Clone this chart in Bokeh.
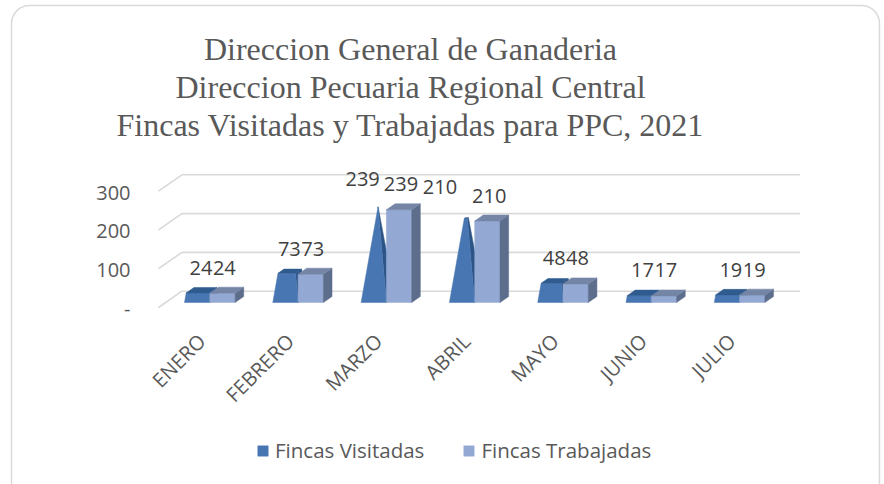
import numpy as np
from bokeh.plotting import figure
from bokeh.models import Range1d, Legend, LegendItem
from bokeh.core.properties import value
from bokeh.embed import file_html
from bokeh.resources import INLINE

# ---------------- data ----------------
CATEGORIES = ["ENERO", "FEBRERO", "MARZO", "ABRIL", "MAYO", "JUNIO", "JULIO"]
VISITADAS = [24, 73, 239, 210, 48, 17, 19]
TRABAJADAS = [24, 73, 239, 210, 48, 17, 19]
SERIES_NAMES = ["Fincas Visitadas", "Fincas Trabajadas"]
Y_TICKS = [0, 100, 200, 300]
Y_TICK_LABELS = ["-", "100", "200", "300"]
TITLE_LINES = ["Direccion General de Ganaderia",
               "Direccion Pecuaria Regional Central",
               "Fincas Visitadas y Trabajadas para PPC, 2021"]

# ---------------- layout / style ----------------
W, H = 884, 484
M = 0
SX = 88.3          # px per category
SY = 0.388         # px per value unit
X0_PX = 209.3      # page x of first category centre
BASE_PX = 302.0    # page y of bar base (front)
BAR_W = 25.3 / SX
BAR_D = 6.0        # bar depth (px, vertical component)
DEPTH_RATIO = 1.4375
WALL_BACK_D = 11.3
WALL_FRONT_D = -5.0
VIS_LABEL_NUDGE = {2: (-15, -5.5), 3: (-26, -9)}   # manually moved labels (px)

VIS_FRONT, VIS_SIDE, VIS_TOP = "#4876b3", "#2d5486", "#2f5b8f"
TRA_FRONT, TRA_SIDE, TRA_TOP = "#93a9d4", "#5d6d8c", "#7585a6"
GRID = "#d9d9d9"
TXT = "#595959"
LBL = "#404040"


def px2x(X):
    return (X - X0_PX) / SX


def px2y(Y):
    return (BASE_PX - Y) / SY


def proj(xw, v, d):
    return xw + d * DEPTH_RATIO / SX, v + d / SY


p = figure(width=W, height=H,
           x_range=Range1d(px2x(M), px2x(M + W)),
           y_range=Range1d(px2y(M + H), px2y(M)),
           output_backend="svg", toolbar_location=None,
           x_axis_location=None, y_axis_location=None,
           min_border=0, outline_line_color=None)
p.background_fill_color = "white"
p.border_fill_color = "white"
p.grid.visible = False
p.xgrid.visible = False
p.ygrid.visible = False

# ---------------- outer rounded border ----------------
def rounded(l, t, r, b, rad, n=10):
    pts = []
    corners = [(r - rad, t + rad, -90, 0), (r - rad, b - rad, 0, 90),
               (l + rad, b - rad, 90, 180), (l + rad, t + rad, 180, 270)]
    for cx, cy, a0, a1 in corners:
        for a in np.linspace(np.radians(a0), np.radians(a1), n):
            pts.append((cx + rad * np.cos(a), cy + rad * np.sin(a)))
    pts.append(pts[0])
    xs = [px2x(a) for a, _ in pts]
    ys = [px2y(b_) for _, b_ in pts]
    return xs, ys

bx, by = rounded(11, 5, 879, 500, 18)
p.line(bx, by, line_color="#d9d9d9", line_width=1.5)

# ---------------- walls / gridlines ----------------
XL, XR = -0.5, len(CATEGORIES) - 0.5
gxs, gys = [], []
for t in Y_TICKS:
    a = proj(XL, t, WALL_FRONT_D)
    b = proj(XL, t, WALL_BACK_D)
    c = proj(XR, t, WALL_BACK_D)
    gxs.append([a[0], b[0], c[0]])
    gys.append([a[1], b[1], c[1]])
p.multi_line(gxs, gys, line_color=GRID, line_width=1.6)

# y tick labels (front edge of side wall)
p.text(x=[px2x(130)] * len(Y_TICKS),
       y=[proj(XL, t, WALL_FRONT_D)[1] - 1.5 / SY for t in Y_TICKS],
       text=Y_TICK_LABELS, text_align="right", text_baseline="middle",
       text_font=value("Open Sans"), text_font_size="20px", text_color=TXT)

# ---------------- Visitadas: partial pyramids ----------------
def poly(pts):
    pp = [proj(*q) for q in pts]
    return [q[0] for q in pp], [q[1] for q in pp]

vmax = max(VISITADAS)
vf_x, vf_y, vs_x, vs_y, vt_x, vt_y = [], [], [], [], [], []
for i, v in enumerate(VISITADAS):
    xl, xr = i - BAR_W, i
    xc = (xl + xr) / 2
    t = v / vmax
    base = {"FL": (xl, 0, 0), "FR": (xr, 0, 0), "BR": (xr, 0, BAR_D), "BL": (xl, 0, BAR_D)}
    apex = (xc, vmax, BAR_D / 2)
    top = {k: (P[0] + t * (apex[0] - P[0]), v, P[2] + t * (apex[2] - P[2])) for k, P in base.items()}
    x_, y_ = poly([base["FR"], base["BR"], top["BR"], top["FR"]])
    vs_x.append(x_); vs_y.append(y_)
    x_, y_ = poly([base["FL"], base["FR"], top["FR"], top["FL"]])
    vf_x.append(x_); vf_y.append(y_)
    x_, y_ = poly([top["FL"], top["FR"], top["BR"], top["BL"]])
    vt_x.append(x_); vt_y.append(y_)

p.patches(vs_x, vs_y, fill_color=VIS_SIDE, line_color=VIS_SIDE, line_width=0.5)
vis_front = p.patches(vf_x, vf_y, fill_color=VIS_FRONT, line_color=VIS_FRONT, line_width=0.5)
p.patches(vt_x, vt_y, fill_color=VIS_TOP, line_color=VIS_TOP, line_width=0.5)

# ---------------- Trabajadas: boxes ----------------
tf_x, tf_y, ts_x, ts_y, tt_x, tt_y = [], [], [], [], [], []
for i, v in enumerate(TRABAJADAS):
    xl, xr = i, i + BAR_W
    x_, y_ = poly([(xl, 0, 0), (xr, 0, 0), (xr, v, 0), (xl, v, 0)])
    tf_x.append(x_); tf_y.append(y_)
    x_, y_ = poly([(xr, 0, 0), (xr, 0, BAR_D), (xr, v, BAR_D), (xr, v, 0)])
    ts_x.append(x_); ts_y.append(y_)
    x_, y_ = poly([(xl, v, 0), (xr, v, 0), (xr, v, BAR_D), (xl, v, BAR_D)])
    tt_x.append(x_); tt_y.append(y_)

tra_front = p.patches(tf_x, tf_y, fill_color=TRA_FRONT, line_color=TRA_FRONT, line_width=0.5)
p.patches(ts_x, ts_y, fill_color=TRA_SIDE, line_color=TRA_SIDE, line_width=0.5)
p.patches(tt_x, tt_y, fill_color=TRA_TOP, line_color=TRA_TOP, line_width=0.5)

# ---------------- data labels ----------------
LABEL_UP = 25.5 / SY
LABEL_RIGHT = 2.9 / SX
lx, ly, lt = [], [], []
for i, v in enumerate(VISITADAS):
    dx, dy = VIS_LABEL_NUDGE.get(i, (0, 0))
    lx.append(i - BAR_W / 2 + LABEL_RIGHT + 1.0 / SX + dx / SX)
    ly.append(v + LABEL_UP - dy / SY)
    lt.append(str(v))
for i, v in enumerate(TRABAJADAS):
    lx.append(i + BAR_W / 2 + LABEL_RIGHT - 1.0 / SX)
    ly.append(v + LABEL_UP)
    lt.append(str(v))
p.text(x=lx, y=ly, text=lt, text_align="center", text_baseline="middle",
       text_font=value("Open Sans"), text_font_size="20px", text_color=LBL)

# ---------------- category labels ----------------
p.text(x=[i - 8 / SX for i in range(len(CATEGORIES))],
       y=[px2y(337)] * len(CATEGORIES),
       text=CATEGORIES, angle=np.pi / 4, text_align="right", text_baseline="middle",
       text_font=value("Open Sans"), text_font_size="20px", text_color=TXT)

# ---------------- title ----------------
p.text(x=[px2x(410)] * 3, y=[px2y(48), px2y(86), px2y(124)], text=TITLE_LINES,
       text_align="center", text_baseline="alphabetic",
       text_font=value("Liberation Serif"), text_font_size="32px", text_color=TXT)

# ---------------- legend ----------------
legend = Legend(items=[LegendItem(label=SERIES_NAMES[0], renderers=[vis_front]),
                       LegendItem(label=SERIES_NAMES[1], renderers=[tra_front])],
                orientation="horizontal", location=(256, 20),
                glyph_width=13, glyph_height=13, label_standoff=6, spacing=38,
                padding=0, margin=0, border_line_color=None,
                background_fill_alpha=0,
                label_text_font="Open Sans", label_text_font_size="20.5px",
                label_text_color=TXT)
p.add_layout(legend)

open("out.html", "w").write(file_html(p, INLINE))
